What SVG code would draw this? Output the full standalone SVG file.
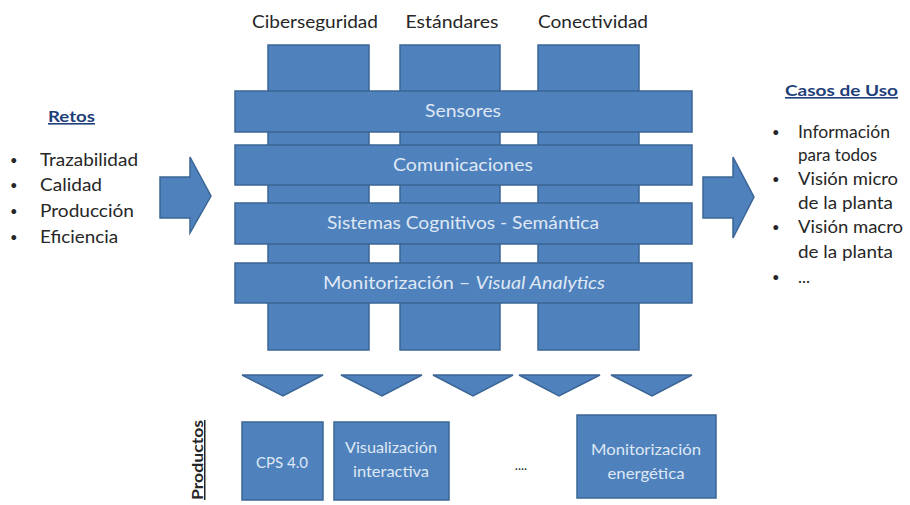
<svg xmlns="http://www.w3.org/2000/svg" width="910" height="505" viewBox="0 0 910 505">
<style>
.blk{fill:#4F81BD;stroke:#3B6595;stroke-width:1.5}
.t{font-family:Lato,"Open Sans","Liberation Sans",sans-serif;fill:#262626}
.top{font-size:17px;text-anchor:middle}
.bar{font-size:17px;fill:#dfe8f4;text-anchor:middle}
.box{font-size:15px;fill:#dfe8f4;text-anchor:middle}
.hd{font-size:16px;fill:#1F3F7A;font-weight:bold;text-decoration:underline}
.li{font-size:17px}
.bu{font-size:13px}
</style>
<rect width="910" height="505" fill="#ffffff"/>
<g id="columns">
<rect id="col-ciberseguridad" class="blk" x="268" y="45" width="101" height="305"/>
<rect id="col-estandares" class="blk" x="400" y="45" width="100" height="305"/>
<rect id="col-conectividad" class="blk" x="538" y="45" width="101" height="305"/>
</g>
<g id="top-labels">
<text class="t top" x="315" y="28" textLength="126" lengthAdjust="spacingAndGlyphs">Ciberseguridad</text>
<text class="t top" x="452" y="28" textLength="93" lengthAdjust="spacingAndGlyphs">Estándares</text>
<text class="t top" x="593" y="28" textLength="110" lengthAdjust="spacingAndGlyphs">Conectividad</text>
</g>
<g id="sensores">
<rect class="blk" x="235" y="91" width="457" height="41"/>
<text class="t bar" x="463" y="117" textLength="76" lengthAdjust="spacingAndGlyphs">Sensores</text>
</g>
<g id="comunicaciones">
<rect class="blk" x="235" y="145" width="457" height="40"/>
<text class="t bar" x="463" y="170.5" textLength="140" lengthAdjust="spacingAndGlyphs">Comunicaciones</text>
</g>
<g id="sistemas">
<rect class="blk" x="235" y="203" width="457" height="41"/>
<text class="t bar" x="463" y="229" textLength="272" lengthAdjust="spacingAndGlyphs">Sistemas Cognitivos - Semántica</text>
</g>
<g id="monitorizacion">
<rect class="blk" x="235" y="263" width="457" height="40"/>
<text class="t bar" x="464" y="288.5" textLength="282" lengthAdjust="spacingAndGlyphs">Monitorización – <tspan font-style="italic">Visual Analytics</tspan></text>
</g>
<g id="retos">
<text class="t hd" x="48" y="122" textLength="47" lengthAdjust="spacingAndGlyphs">Retos</text>
<g class="t li">
<text class="bu" x="10" y="165">•</text><text x="40" y="166" textLength="98" lengthAdjust="spacingAndGlyphs">Trazabilidad</text>
<text class="bu" x="10" y="190">•</text><text x="40" y="191" textLength="62" lengthAdjust="spacingAndGlyphs">Calidad</text>
<text class="bu" x="10" y="216">•</text><text x="40" y="217" textLength="94" lengthAdjust="spacingAndGlyphs">Producción</text>
<text class="bu" x="10" y="242">•</text><text x="40" y="243" textLength="78" lengthAdjust="spacingAndGlyphs">Eficiencia</text>
</g>
</g>
<g id="casos-de-uso">
<text class="t hd" x="785" y="96" textLength="113" lengthAdjust="spacingAndGlyphs">Casos de Uso</text>
<g class="t li">
<text class="bu" x="772" y="137">•</text><text x="798" y="138" textLength="92" lengthAdjust="spacingAndGlyphs">Información</text>
<text x="798" y="161">para todos</text>
<text class="bu" x="772" y="184">•</text><text x="798" y="185" textLength="100" lengthAdjust="spacingAndGlyphs">Visión micro</text>
<text x="798" y="209" textLength="95" lengthAdjust="spacingAndGlyphs">de la planta</text>
<text class="bu" x="772" y="232">•</text><text x="798" y="233" textLength="105" lengthAdjust="spacingAndGlyphs">Visión macro</text>
<text x="798" y="258" textLength="95" lengthAdjust="spacingAndGlyphs">de la planta</text>
<text class="bu" x="772" y="282">•</text><text x="798" y="283">...</text>
</g>
</g>
<g id="connectors">
<path class="blk" d="M160,177 H190 V157 L211,196 L190,233 V218 H160 Z"/>
<path class="blk" d="M703,177 H733 V157 L754,197 L733,238 V218 H703 Z"/>
<path class="blk" d="M242,375 H323 L283,396 Z"/>
<path class="blk" d="M341,375 H422 L382,396 Z"/>
<path class="blk" d="M433,375 H513 L473,396 Z"/>
<path class="blk" d="M519,375 H600 L559,396 Z"/>
<path class="blk" d="M611,375 H692 L652,396 Z"/>
</g>
<g id="productos-label">
<text class="t" transform="translate(203,460) rotate(-90)" text-anchor="middle" font-size="15" font-weight="bold" fill="#2b2f3a" text-decoration="underline" textLength="80" lengthAdjust="spacingAndGlyphs">Productos</text>
</g>
<g id="cps">
<rect class="blk" x="242" y="422" width="81" height="78"/>
<text class="t box" x="282" y="468" textLength="52" lengthAdjust="spacingAndGlyphs">CPS 4.0</text>
</g>
<g id="visualizacion">
<rect class="blk" x="334" y="422" width="115" height="78"/>
<text class="t box" x="391" y="453" textLength="92" lengthAdjust="spacingAndGlyphs">Visualización</text>
<text class="t box" x="391" y="477" textLength="76" lengthAdjust="spacingAndGlyphs">interactiva</text>
</g>
<g id="ellipsis">
<text class="t" x="521" y="470" font-size="13" text-anchor="middle">....</text>
</g>
<g id="monitorizacion-energetica">
<rect class="blk" x="577" y="415" width="139" height="83"/>
<text class="t box" x="646" y="455" textLength="110" lengthAdjust="spacingAndGlyphs">Monitorización</text>
<text class="t box" x="646" y="479" textLength="77" lengthAdjust="spacingAndGlyphs">energética</text>
</g>
</svg>
